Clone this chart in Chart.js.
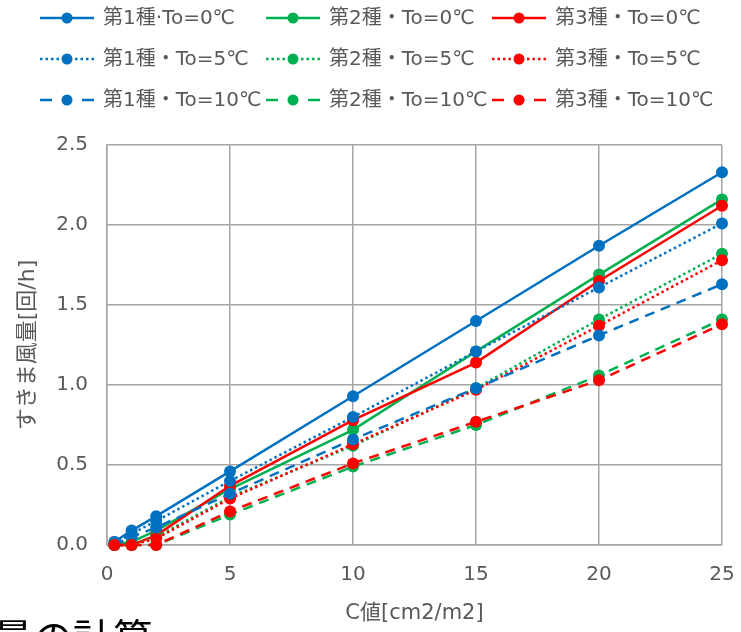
<!DOCTYPE html>
<html lang="ja">
<head>
    <meta charset="UTF-8">
    <title>すきま風量</title>
    <script src="https://cdn.jsdelivr.net/npm/chart.js"></script>
    <style>
        body {
            margin: 0;
            background: white;
        }
        .wrap {
            position: relative;
            width: 741px;
            height: 632px;
            overflow: hidden;
        }
        .heading {
            position: absolute;
            left: -7px;
            top: 616px;
            font-family: "Noto Sans CJK JP", sans-serif;
            font-size: 40px;
            line-height: 1;
            color: #000;
            white-space: nowrap;
        }
    </style>
</head>
<body>
    <div class="wrap">
        <canvas id="myChart" width="741" height="632"></canvas>
        <div class="heading">量の計算</div>
    </div>
    <script>
        // C値 [cm2/m2]
        const cValues = [0.3, 1, 2, 5, 10, 15, 20, 25];

        // すきま風量 [回/h]
        const type1To0 = [0.02, 0.09, 0.18, 0.46, 0.93, 1.40, 1.87, 2.33];
        const type2To0 = [0.00, 0.02, 0.09, 0.35, 0.72, 1.21, 1.69, 2.16];
        const type3To0 = [0.00, 0.00, 0.06, 0.37, 0.78, 1.14, 1.65, 2.12];
        const type1To5 = [0.01, 0.07, 0.15, 0.40, 0.80, 1.21, 1.61, 2.01];
        const type2To5 = [0.00, 0.00, 0.05, 0.30, 0.62, 0.98, 1.41, 1.82];
        const type3To5 = [0.00, 0.00, 0.04, 0.29, 0.63, 0.97, 1.37, 1.78];
        const type1To10 = [0.00, 0.05, 0.11, 0.32, 0.66, 0.98, 1.31, 1.63];
        const type2To10 = [0.00, 0.00, 0.00, 0.19, 0.49, 0.75, 1.06, 1.41];
        const type3To10 = [0.00, 0.00, 0.00, 0.21, 0.51, 0.77, 1.03, 1.38];

        const seriesLabels = [
            '第1種·To=0℃', '第2種・To=0℃', '第3種・To=0℃',
            '第1種・To=5℃', '第2種・To=5℃', '第3種・To=5℃',
            '第1種・To=10℃', '第2種・To=10℃', '第3種・To=10℃'
        ];
        const seriesValues = [type1To0, type2To0, type3To0, type1To5, type2To5, type3To5, type1To10, type2To10, type3To10];

        const xTicks = [0, 5, 10, 15, 20, 25];
        const yTicks = [0, 0.5, 1.0, 1.5, 2.0, 2.5];

        const BLUE = '#0070C0';
        const GREEN = '#00B050';
        const RED = '#FF0000';
        const colors = [BLUE, GREEN, RED];
        const lineDash = { solid: [], dotted: [2.5, 3], dashed: [10, 7] };
        const legendDash = { solid: [], dotted: [2.5, 3], dashed: [12, 40] };
        const styles = ['solid', 'dotted', 'dashed'];

        const FONT = '"DejaVu Sans", "Noto Sans CJK JP", sans-serif';
        const TEXT = '#595959';
        const GRID = '#A6A6A6';

        // legend grid: 3 columns x 3 rows, like the spreadsheet legend
        const LEG_X0 = 40;
        const LEG_COL_W = 226;
        const LEG_Y0 = 18;
        const LEG_ROW_H = 41;
        const MARK_W = 54;
        const TEXT_GAP = 9;

        const datasets = seriesValues.map((vals, i) => {
            const color = colors[i % 3];
            const style = styles[Math.floor(i / 3)];
            return {
                label: seriesLabels[i],
                data: cValues.map((c, k) => ({ x: c, y: vals[k] })),
                borderColor: color,
                backgroundColor: color,
                pointBackgroundColor: color,
                pointBorderWidth: 0,
                pointRadius: 6,
                borderWidth: 2.5,
                borderDash: lineDash[style],
                lineStyle: style,
                tension: 0,
                fill: false,
                clip: false,
                order: 9 - i // later series on top, like the original
            };
        });

        // legend drawn as a fixed grid (Chart.js legend only flows items)
        const gridLegend = {
            id: 'gridLegend',
            afterDraw(chart) {
                const ctx = chart.ctx;
                chart.data.datasets.forEach((ds, i) => {
                    const col = i % 3;
                    const row = Math.floor(i / 3);
                    const x0 = LEG_X0 + col * LEG_COL_W;
                    const cx = x0 + MARK_W / 2;
                    const cy = LEG_Y0 + row * LEG_ROW_H;
                    ctx.save();
                    ctx.strokeStyle = ds.borderColor;
                    ctx.lineWidth = ds.borderWidth;
                    ctx.setLineDash(legendDash[ds.lineStyle]);
                    ctx.beginPath();
                    ctx.moveTo(x0, cy);
                    ctx.lineTo(cx, cy);
                    ctx.stroke();
                    ctx.beginPath();
                    ctx.moveTo(x0 + MARK_W, cy);
                    ctx.lineTo(cx, cy);
                    ctx.stroke();
                    ctx.setLineDash([]);
                    ctx.fillStyle = ds.pointBackgroundColor;
                    ctx.beginPath();
                    ctx.arc(cx, cy, 5.5, 0, Math.PI * 2);
                    ctx.fill();
                    ctx.fillStyle = TEXT;
                    ctx.font = '20px ' + FONT;
                    ctx.textBaseline = 'middle';
                    ctx.textAlign = 'left';
                    ctx.fillText(ds.label, x0 + MARK_W + TEXT_GAP, cy + 1);
                    ctx.restore();
                });
            }
        };

        const ctx = document.getElementById('myChart').getContext('2d');
        const myChart = new Chart(ctx, {
            type: 'line',
            data: { datasets: datasets },
            plugins: [gridLegend],
            options: {
                responsive: false,
                animation: false,
                layout: {
                    padding: { top: 145, right: 19, bottom: 0, left: 0 }
                },
                plugins: {
                    tooltip: { enabled: false },
                    legend: { display: false }
                },
                scales: {
                    x: {
                        type: 'linear',
                        min: 0,
                        max: 25,
                        afterBuildTicks(scale) {
                            scale.ticks = xTicks.map(v => ({ value: v }));
                        },
                        grid: { color: GRID, lineWidth: 1.5, drawTicks: true, tickLength: 16, tickColor: 'rgba(0,0,0,0)' },
                        border: { color: GRID, width: 1.5 },
                        ticks: {
                            padding: 2,
                            color: TEXT,
                            font: { family: FONT, size: 20 }
                        },
                        title: {
                            display: true,
                            text: 'C値[cm2/m2]',
                            color: TEXT,
                            font: { family: FONT, size: 21 },
                            padding: { top: 12.4, bottom: 5.4 }
                        }
                    },
                    y: {
                        type: 'linear',
                        min: 0,
                        max: 2.5,
                        afterBuildTicks(scale) {
                            scale.ticks = yTicks.map(v => ({ value: v }));
                        },
                        grid: { color: GRID, lineWidth: 1.5, drawTicks: true, tickLength: 17, tickColor: 'rgba(0,0,0,0)' },
                        border: { color: GRID, width: 1.5 },
                        ticks: {
                            padding: 2,
                            color: TEXT,
                            font: { family: FONT, size: 20 },
                            callback: v => v.toFixed(1)
                        },
                        title: {
                            display: true,
                            text: 'すきま風量[回/h]',
                            color: TEXT,
                            font: { family: FONT, size: 22 },
                            padding: { top: 14.8, bottom: 13 }
                        }
                    }
                }
            }
        });
    </script>
</body>
</html>
